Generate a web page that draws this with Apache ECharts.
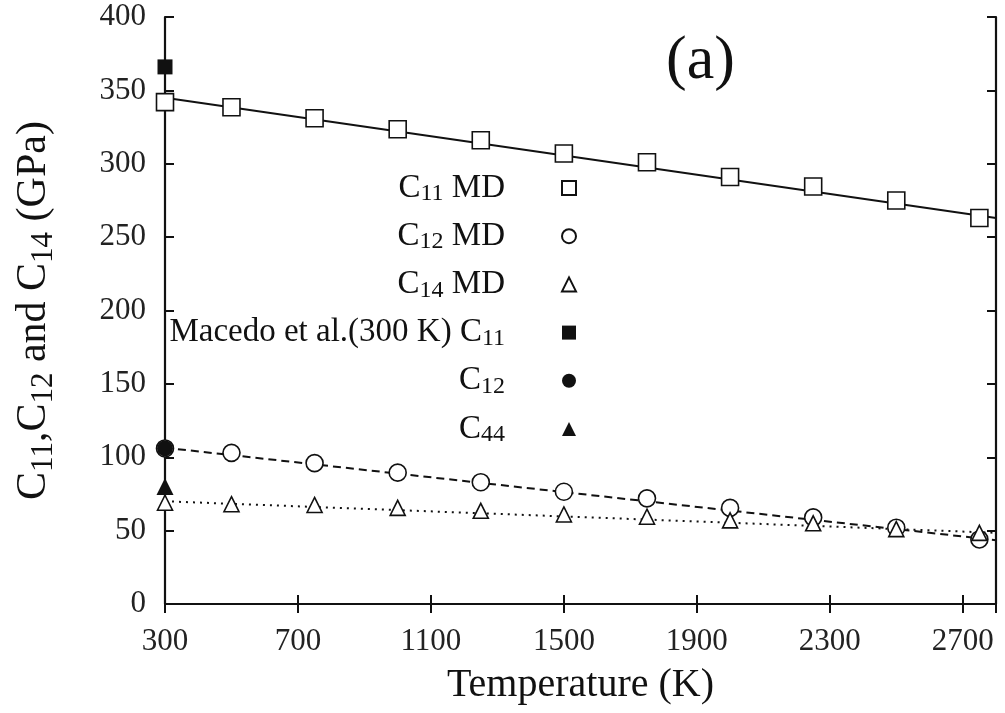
<!DOCTYPE html>
<html>
<head>
<meta charset="utf-8">
<script src="https://cdn.jsdelivr.net/npm/echarts@6/dist/echarts.min.js"></script>
<style>
  html, body { margin: 0; padding: 0; background: #fff; }
  #chart { width: 1005px; height: 713px; }
</style>
</head>
<body>
<div id="chart"></div>
<script>
// temperatures of the MD runs (K)
var temps = [300, 500, 750, 1000, 1250, 1500, 1750, 2000, 2250, 2500, 2750];
// elastic constants from MD (GPa)
var c11 = [342, 338.5, 331, 323.5, 316, 307, 301, 291, 284.5, 275, 263];
var c12 = [106, 103, 96, 89.5, 83, 76.5, 72, 65.5, 59, 52, 44];
var c14 = [69, 68, 67.5, 65.5, 63.5, 61, 59.5, 57, 55, 51, 48.5];
// Macedo et al. at 300 K
var macedoT = 300;
var macedoC11 = 366;
var macedoC12 = 106;
var macedoC44 = 80;
// linear fits, end points [T, value]
var fitC11 = [[300, 345], [2800, 263]];
var fitC12 = [[300, 106.5], [2800, 43.5]];
var fitC14 = [[300, 70], [2800, 48.5]];

function pairs(xs, ys) {
    return xs.map(function (x, i) { return [x, ys[i]]; });
}

var font = '"Liberation Serif", "DejaVu Serif", serif';
var ink = '#111';

var legendNames = {
    'C11 MD': '{t|C}{s|11}{t| MD}{g|}',
    'C12 MD': '{t|C}{s|12}{t| MD}{g|}',
    'C14 MD': '{t|C}{s|14}{t| MD}{g|}',
    'Macedo C11': '{t|Macedo et al.(300 K) C}{s|11}{g|}',
    'Macedo C12': '{t|C}{s|12}{g|}',
    'Macedo C44': '{t|C}{s|44}{g|}'
};

var emptyStyle = { color: '#fff', borderColor: ink, borderWidth: 1.6, opacity: 1 };
var fullStyle = { color: ink, borderColor: ink, borderWidth: 0, opacity: 1 };

var chartDom = document.getElementById('chart');
var myChart = echarts.init(chartDom);

var axisBase = {
    axisLine: { show: true, lineStyle: { color: ink, width: 2.2 } },
    axisTick: { show: true, inside: true, length: 9, lineStyle: { color: ink, width: 2 } },
    splitLine: { show: false }
};

var option = {
    backgroundColor: '#fff',
    animation: false,
    title: {
        text: '(a)',
        left: 661,
        top: 26,
        textStyle: { fontFamily: font, fontSize: 62, fontWeight: 'normal', color: ink }
    },
    grid: { left: 165, right: 9, top: 17, bottom: 109, containLabel: false },
    legend: {
        orient: 'vertical',
        align: 'right',
        right: 423,
        top: 160,
        itemGap: 7.2,
        itemWidth: 14,
        itemHeight: 14,
        data: ['C11 MD', 'C12 MD', 'C14 MD', 'Macedo C11', 'Macedo C12', 'Macedo C44'],
        formatter: function (name) { return legendNames[name]; },
        textStyle: {
            color: ink,
            rich: {
                t: { fontFamily: font, fontSize: 33, color: ink, lineHeight: 36 },
                s: { fontFamily: font, fontSize: 24, color: ink, verticalAlign: 'bottom', lineHeight: 36, padding: [17, 0, 0, 0] },
                g: { width: 52 }
            }
        }
    },
    xAxis: [
        Object.assign({}, axisBase, {
            type: 'value', min: 300, max: 2800, interval: 400,
            name: 'Temperature (K)', nameLocation: 'middle', nameGap: 61,
            nameTextStyle: { fontFamily: font, fontSize: 40, color: ink },
            axisLabel: {
                fontFamily: font, fontSize: 31, color: '#222', margin: 22,
                showMaxLabel: false,
                formatter: function (v) { return String(v); }
            }
        }),
        Object.assign({}, axisBase, {
            type: 'value', position: 'top', min: 300, max: 2800, interval: 400,
            axisLabel: { show: false }
        })
    ],
    yAxis: [
        Object.assign({}, axisBase, {
            type: 'value', min: 0, max: 400, interval: 50,
            name: '{t|C}{s|11}{t|,C}{s|12}{t| and C}{s|14}{t| (GPa)}',
            nameLocation: 'middle', nameGap: 106, nameRotate: 90,
            nameTextStyle: {
                color: ink,
                rich: {
                    t: { fontFamily: font, fontSize: 42, color: ink },
                    s: { fontFamily: font, fontSize: 31, color: ink, verticalAlign: 'bottom', padding: [19, 0, 0, 0] }
                }
            },
            axisLabel: {
                fontFamily: font, fontSize: 31, color: '#222', margin: 19,
                formatter: function (v) { return String(v); }
            }
        }),
        Object.assign({}, axisBase, {
            type: 'value', position: 'right', min: 0, max: 400, interval: 50,
            axisLabel: { show: false }
        })
    ],
    series: [
        {
            name: 'fit C11', type: 'line', data: fitC11, showSymbol: false, silent: true,
            lineStyle: { color: ink, width: 2 }, z: 1
        },
        {
            name: 'fit C12', type: 'line', data: fitC12, showSymbol: false, silent: true,
            lineStyle: { color: ink, width: 2, type: [8, 5] }, z: 1
        },
        {
            name: 'fit C14', type: 'line', data: fitC14, showSymbol: false, silent: true,
            lineStyle: { color: ink, width: 2, type: [2, 5] }, z: 1
        },
        {
            name: 'C11 MD', type: 'scatter', data: pairs(temps, c11),
            symbol: 'rect', symbolSize: 17, itemStyle: emptyStyle, z: 3
        },
        {
            name: 'C12 MD', type: 'scatter', data: pairs(temps, c12),
            symbol: 'circle', symbolSize: 17, itemStyle: emptyStyle, z: 3
        },
        {
            name: 'C14 MD', type: 'scatter', data: pairs(temps, c14),
            symbol: 'triangle', symbolSize: 15, itemStyle: emptyStyle, z: 3
        },
        {
            name: 'Macedo C11', type: 'scatter', data: [[macedoT, macedoC11]],
            symbol: 'rect', symbolSize: 15, itemStyle: fullStyle, z: 4
        },
        {
            name: 'Macedo C12', type: 'scatter', data: [[macedoT, macedoC12]],
            symbol: 'circle', symbolSize: 16, itemStyle: fullStyle, z: 4
        },
        {
            name: 'Macedo C44', type: 'scatter', data: [[macedoT, macedoC44]],
            symbol: 'triangle', symbolSize: 17, itemStyle: fullStyle, z: 4
        }
    ]
};

option && myChart.setOption(option);
</script>
</body>
</html>
